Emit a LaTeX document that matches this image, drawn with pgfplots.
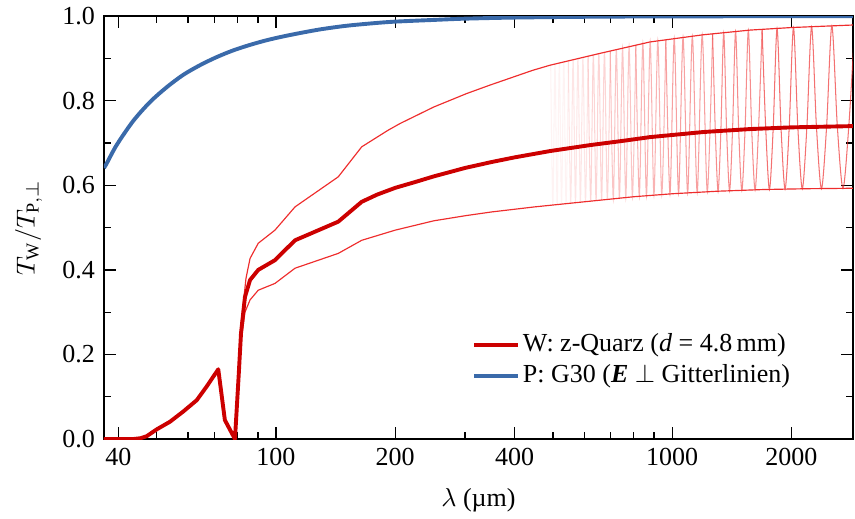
\documentclass[border=0pt]{standalone}
\usepackage{fontspec}
\setmainfont{Liberation Serif}
\usepackage{pgfplots}
\pgfplotsset{compat=1.18}
\definecolor{wred}{RGB}{204,0,0}
\definecolor{tred}{RGB}{238,45,45}
\definecolor{pblue}{RGB}{58,106,170}
\begin{document}
\begin{tikzpicture}
\begin{semilogxaxis}[
  scale only axis, width=288.1pt, height=162.7pt,
  xmin=36.8, xmax=2860, ymin=0, ymax=1,
  xtick={40,100,200,400,1000,2000},
  xticklabels={40,100,200,400,1000,2000},
  minor xtick={50,60,70,80,90,300,500,600,700,800,900},
  ytick={0,0.2,0.4,0.6,0.8,1},
  yticklabels={0.0,0.2,0.4,0.6,0.8,1.0},
  minor ytick={0.1,0.3,0.5,0.7,0.9},
  tick align=inside, tick pos=both,
  major tick length=4.6pt, minor tick length=2.7pt,
  every tick/.style={black, line width=0.5pt},
  axis line style={line width=0.5pt},
  /pgf/number format/assume math mode=true,
  xlabel={$\lambda$ (µm)},
  ylabel={$T_{\mathrm{W}}/T_{\mathrm{P},\perp}$},
  xlabel style={at={(axis description cs:0.5,-0.144)}, anchor=center},
  ylabel style={at={(axis description cs:-0.1007,0.5)}, anchor=center},
  legend style={at={(axis description cs:0.491,0.26)}, anchor=north west,
    draw=none, fill=none, inner sep=0pt, row sep=0pt,
    nodes={inner sep=1pt, text depth=0.25em, text height=0.75em}},
  legend cell align=left,
  legend image code/.code={\draw[#1] (0pt,0pt) -- (17pt,0pt);},
]
% interference fringes
\addplot[tred, opacity=0.06, line width=0.4pt, smooth, forget plot] coordinates {
(493.7,0.884)(499.8,0.553)(506.1,0.887)(512.5,0.554)(519.1,0.889)(525.8,0.555)(532.7,0.892)(539.8,0.556)(547.1,0.894)};
\addplot[tred, opacity=0.12, line width=0.4pt, smooth, forget plot] coordinates {
(547.1,0.894)(554.6,0.558)(562.3,0.897)(570.2,0.559)(578.4,0.900)(586.8,0.560)(595.4,0.902)(604.3,0.561)(613.4,0.905)};
\addplot[tred, opacity=0.20, line width=0.4pt, smooth, forget plot] coordinates {
(613.4,0.905)(622.9,0.563)(632.6,0.908)(642.6,0.564)(653.0,0.911)(663.7,0.565)(674.8,0.914)(686.2,0.567)(698.0,0.918)};
\addplot[tred, opacity=0.28, line width=0.4pt, smooth, forget plot] coordinates {
(698.0,0.918)(710.3,0.568)(723.0,0.921)(736.1,0.570)(749.7,0.924)(763.9,0.571)(778.6,0.928)(793.8,0.573)(809.7,0.931)};
\addplot[tred, opacity=0.36, line width=0.4pt, smooth, forget plot] coordinates {
(809.7,0.931)(826.2,0.574)(843.5,0.935)(861.4,0.575)(880.1,0.939)(899.7,0.577)(920.1,0.942)(941.5,0.578)(964.0,0.944)};
\addplot[tred, opacity=0.45, line width=0.4pt, smooth, forget plot] coordinates {
(964.0,0.944)(987.5,0.580)(1012.2,0.947)(1038.1,0.581)(1065.4,0.950)(1094.2,0.582)(1124.6,0.952)(1156.7,0.583)(1190.8,0.956)(1226.8,0.585)(1265.2,0.958)};
\addplot[tred, opacity=0.55, line width=0.4pt, smooth, forget plot] coordinates {
(1265.2,0.958)(1285.3,0.728)(1306.0,0.586)(1327.4,0.729)(1349.5,0.961)(1372.4,0.730)(1396.1,0.587)(1420.6,0.731)(1445.9,0.964)(1472.2,0.731)(1499.5,0.588)(1527.8,0.732)(1557.2,0.967)(1587.7,0.733)(1619.4,0.589)(1652.5,0.734)(1686.9,0.969)};
\addplot[tred, opacity=0.68, line width=0.4pt, smooth, forget plot] coordinates {
(1686.9,0.969)(1722.8,0.735)(1760.3,0.590)(1799.4,0.735)(1840.3,0.971)(1883.1,0.736)(1927.9,0.591)(1974.9,0.737)(2024.3,0.973)(2076.2,0.737)(2130.8,0.592)(2188.4,0.738)(2249.2,0.975)(2313.5,0.738)(2381.5,0.592)(2453.7,0.738)(2530.4,0.977)(2612.0,0.739)(2699.1,0.593)(2792.1,0.740)(2891.9,0.979)};
% upper envelope
\addplot[tred, line width=0.45pt, line join=round, forget plot] coordinates {
(36.8,0.0)(43.5,0.0)(45.5,0.002)(47.2,0.007)(50.0,0.023)(54.0,0.041)(58.3,0.065)(63.1,0.092)(66.8,0.124)(71.5,0.165)(74.3,0.045)(78.8,0.0)
(80.5,0.16)(81.6,0.27)(84.0,0.38)(86.0,0.427)(90.2,0.463)(99.4,0.494)(111.7,0.549)(143.6,0.620)(164.6,0.691)(191.7,0.730)(205.6,0.746)(250,0.785)(303,0.817)(347,0.837)(445,0.872)(492,0.884)(658,0.912)(880,0.939)(1200,0.956)(1574,0.967)(2000,0.973)(2860,0.979)};
% lower envelope
\addplot[tred, line width=0.45pt, line join=round, forget plot] coordinates {
(36.8,0.0)(43.5,0.0)(45.5,0.002)(47.2,0.007)(50.0,0.023)(54.0,0.041)(58.3,0.065)(63.1,0.092)(66.8,0.124)(71.5,0.165)(74.3,0.045)(78.8,0.0)
(80.5,0.14)(81.6,0.23)(83.5,0.300)(86.0,0.329)(90.2,0.352)(99.4,0.368)(111.7,0.404)(143.6,0.439)(164.6,0.470)(200,0.494)(250,0.516)(300,0.528)(350,0.537)(450,0.549)(600,0.561)(800,0.573)(1000,0.580)(1300,0.586)(1700,0.590)(2200,0.592)(2860,0.593)};
% mean transmission
\addplot[wred, line width=1.5pt, line join=round] coordinates {
(36.8,0.0)(43.5,0.0)(45.5,0.002)(47.2,0.007)(50.0,0.023)(54.0,0.041)(58.3,0.065)(63.1,0.092)(66.8,0.124)(71.5,0.165)(74.3,0.045)(78.8,0.0)
(80.5,0.15)(81.6,0.25)(83.5,0.336)(86.0,0.376)(90.2,0.400)(99.4,0.423)(111.7,0.470)(143.6,0.514)(164.6,0.561)(180,0.578)(200,0.594)(225,0.608)(250,0.621)(300,0.641)(350,0.655)(400,0.666)(492,0.681)(620,0.695)(750,0.705)(880,0.714)(1200,0.726)(1574,0.733)(2000,0.737)(2860,0.740)};
\addlegendentry{W: z-Quarz (\textit{d} = 4.8\,mm)}
% polarizer
\addplot[pblue, line width=1.5pt, smooth] coordinates {
(36.8,0.641)(37.4,0.652)(39.6,0.695)(43.6,0.752)(48.1,0.797)(53.0,0.832)(58.3,0.861)(64.3,0.884)(70.8,0.903)(78.0,0.919)(86.0,0.932)(94.7,0.943)(104.3,0.952)(115,0.960)(130,0.969)(150,0.977)(175,0.983)(200,0.987)(250,0.991)(300,0.994)(400,0.9966)(600,0.9984)(1000,0.9994)(2860,0.9999)};
\addlegendentry{P: G30 (\textbf{\textit{E}} $\perp$ Gitterlinien)}
\end{semilogxaxis}
\pgfresetboundingbox
\useasboundingbox (-40pt,-30.4pt) rectangle (288.9pt,168.9pt);
\end{tikzpicture}
\end{document}
